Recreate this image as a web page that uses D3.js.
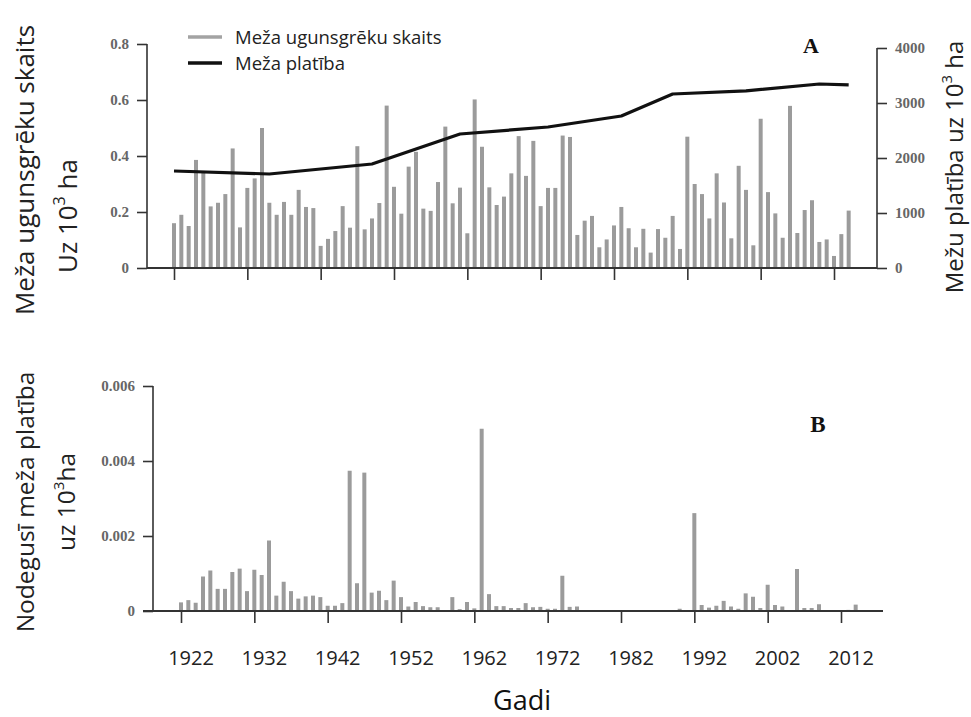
<!DOCTYPE html>
<html>
<head>
<meta charset="utf-8">
<script src="https://cdn.jsdelivr.net/npm/d3@7"></script>
<style>
  html, body { margin: 0; padding: 0; background: #fff; }
  svg { display: block; }
</style>
</head>
<body>
<script>
// years 1922..2014, one bar per year
const years = d3.range(1922, 2015);

// A: forest fire count per 10^3 ha
const fireCount = [
  0.16, 0.19, 0.15, 0.386, 0.34, 0.22, 0.233, 0.264, 0.427, 0.145,
  0.286, 0.32, 0.50, 0.233, 0.19, 0.236, 0.19, 0.279, 0.218, 0.214,
  0.079, 0.104, 0.132, 0.221, 0.144, 0.435, 0.138, 0.177, 0.232, 0.58,
  0.29, 0.194, 0.362, 0.415, 0.212, 0.204, 0.307, 0.505, 0.231, 0.287,
  0.124, 0.602, 0.433, 0.288, 0.225, 0.255, 0.338, 0.471, 0.329, 0.454,
  0.221, 0.286, 0.286, 0.473, 0.468, 0.118, 0.169, 0.186, 0.074, 0.102,
  0.152, 0.218, 0.142, 0.074, 0.14, 0.055, 0.139, 0.108, 0.186, 0.068,
  0.469, 0.30, 0.264, 0.177, 0.338, 0.234, 0.106, 0.365, 0.279, 0.081,
  0.533, 0.271, 0.195, 0.108, 0.579, 0.125, 0.207, 0.242, 0.093, 0.102,
  0.043, 0.121, 0.205
];

// A: forest area, 10^3 ha
const areaYears = [1922, 1935, 1949, 1961, 1973, 1983, 1990, 2000, 2010, 2014];
const forestArea = [1764, 1709, 1891, 2436, 2564, 2764, 3164, 3220, 3345, 3330];

// B: burnt forest area per 10^3 ha
const burntArea = [
  0.00023, 0.00029, 0.00022, 0.00092, 0.00108, 0.00059, 0.00059, 0.00104, 0.00113, 0.00053,
  0.0011, 0.00096, 0.00188, 0.00041, 0.00078, 0.00053, 0.00033, 0.00039, 0.00041, 0.00037,
  0.00014, 0.00014, 0.00021, 0.00374, 0.00074, 0.00369, 0.00049, 0.00054, 0.00029, 0.00081,
  0.00037, 0.00012, 0.00024, 0.00013, 0.0001, 0.0001, 0.00002, 0.00037, 0.00005, 0.00024,
  0.00007, 0.00486, 0.00045, 0.00013, 0.00013, 0.00008, 0.00008, 0.00021, 0.0001, 0.00011,
  0.00006, 0.00006, 0.00094, 0.00011, 0.00012, 0, 0.00002, 0.00002, 0, 0,
  0, 0.00002, 0.00002, 0, 0, 0, 0, 0.00002, 0.00006, 0,
  0.00261, 0.00016, 0.00009, 0.00014, 0.00027, 0.00012, 0.00006, 0.00047, 0.00038, 0.00008,
  0.0007, 0.00016, 0.00012, 0.00002, 0.00112, 0.00008, 0.00008, 0.00018, 0, 0,
  0, 0.00003, 0.00017
];

const tickYears = [1922, 1932, 1942, 1952, 1962, 1972, 1982, 1992, 2002, 2012];
const ticksA = [0, 0.2, 0.4, 0.6, 0.8];
const ticksArea = [0, 1000, 2000, 3000, 4000];
const ticksB = [0, 0.002, 0.004, 0.006];

const W = 971, H = 717;
const sans = "'Open Sans', 'Noto Sans', sans-serif";
const serif = "'Liberation Serif', 'DejaVu Serif', serif";
const barColor = "#9b9b9b";
const axisColor = "#333";
const barW = 4;

const svg = d3.select("body").append("svg").attr("width", W).attr("height", H);

const styleAxis = (g) => {
  g.selectAll("path").attr("stroke", axisColor).attr("stroke-width", 1.6);
  g.selectAll("line").attr("stroke", axisColor).attr("stroke-width", 1.6);
};
const styleTickText = (g) =>
  g.selectAll("text").attr("font-family", serif).attr("font-size", 15)
    .attr("font-weight", "bold").attr("fill", "#666");

// ---- panel A ----
const xA = d3.scaleLinear().domain([1922, 2012]).range([174, 834]);
const yA = d3.scaleLinear().domain([0, 0.8]).range([268, 44]);
const yArea = d3.scaleLinear().domain([0, 4000]).range([268, 48]);

const gA = svg.append("g");

gA.selectAll("rect.bar")
  .data(years)
  .enter()
  .append("rect")
  .attr("class", "bar")
  .attr("x", (d) => xA(d) - barW / 2)
  .attr("y", (d, i) => yA(fireCount[i]))
  .attr("width", barW)
  .attr("height", (d, i) => yA(0) - yA(fireCount[i]))
  .attr("fill", barColor);

gA.append("line")
  .attr("x1", 147).attr("x2", 877)
  .attr("y1", yA(0)).attr("y2", yA(0))
  .attr("stroke", axisColor).attr("stroke-width", 1.8);

gA.append("g")
  .attr("transform", `translate(0,${yA(0)})`)
  .call(d3.axisBottom(xA).tickValues(tickYears).tickSize(12).tickFormat(""))
  .call((g) => g.select(".domain").remove())
  .call(styleAxis);

gA.append("g")
  .attr("transform", "translate(147,0)")
  .call(d3.axisLeft(yA).tickValues(ticksA).tickSize(10).tickPadding(8)
    .tickFormat((d) => (d === 0 ? "0" : d3.format(".1f")(d))))
  .call(styleAxis)
  .call((g) => g.select(".domain").attr("d", `M0,${yA(0.8)}V${yA(0)}`))
  .call(styleTickText);

gA.append("g")
  .attr("transform", "translate(877,0)")
  .call(d3.axisRight(yArea).tickValues(ticksArea).tickSize(10).tickPadding(8)
    .tickFormat(d3.format("d")))
  .call(styleAxis)
  .call((g) => g.select(".domain").attr("d", `M0,${yArea(4000)}V${yArea(0)}`))
  .call(styleTickText);

// forest area line
const line = d3.line()
  .x((d, i) => xA(areaYears[i]))
  .y((d) => yArea(d));
gA.append("path")
  .datum(forestArea)
  .attr("d", line)
  .attr("fill", "none")
  .attr("stroke", "#111")
  .attr("stroke-width", 3.2)
  .attr("stroke-linejoin", "round");

// legend
const legend = [
  { label: "Meža ugunsgrēku skaits", color: "#a3a3a3", y: 37 },
  { label: "Meža platība", color: "#111", y: 63 },
];
const lg = gA.selectAll("g.legend").data(legend).enter().append("g").attr("class", "legend");
lg.append("line")
  .attr("x1", 188).attr("x2", 222)
  .attr("y1", (d) => d.y).attr("y2", (d) => d.y)
  .attr("stroke", (d) => d.color).attr("stroke-width", 3.5);
lg.append("text")
  .attr("x", 235).attr("y", (d) => d.y + 6.5)
  .attr("font-family", sans).attr("font-size", 18.5).attr("fill", "#222")
  .text((d) => d.label);

gA.append("text")
  .attr("x", 811).attr("y", 53)
  .attr("text-anchor", "middle")
  .attr("font-family", serif).attr("font-weight", "bold").attr("font-size", 22)
  .attr("fill", "#111")
  .text("A");

// ---- panel B ----
const xB = d3.scaleLinear().domain([1922, 2012]).range([181, 841]);
const yB = d3.scaleLinear().domain([0, 0.006]).range([611, 386]);

const gB = svg.append("g");

gB.selectAll("rect.bar")
  .data(years)
  .enter()
  .append("rect")
  .attr("class", "bar")
  .attr("x", (d) => xB(d) - barW / 2)
  .attr("y", (d, i) => yB(burntArea[i]))
  .attr("width", barW)
  .attr("height", (d, i) => yB(0) - yB(burntArea[i]))
  .attr("fill", barColor);

gB.append("line")
  .attr("x1", 143).attr("x2", 883)
  .attr("y1", yB(0)).attr("y2", yB(0))
  .attr("stroke", axisColor).attr("stroke-width", 1.8);

gB.append("g")
  .attr("transform", `translate(0,${yB(0)})`)
  .call(d3.axisBottom(xB).tickValues(tickYears).tickSize(12).tickFormat(""))
  .call((g) => g.select(".domain").remove())
  .call(styleAxis);

// year labels sit a little right of their ticks, as in the original
gB.selectAll("text.year")
  .data(tickYears)
  .enter()
  .append("text")
  .attr("class", "year")
  .attr("x", (d) => xB(d) + 10)
  .attr("y", 665)
  .attr("text-anchor", "middle")
  .attr("font-family", sans).attr("font-size", 20).attr("fill", "#222")
  .text((d) => d);

gB.append("g")
  .attr("transform", "translate(153,0)")
  .call(d3.axisLeft(yB).tickValues(ticksB).tickSize(10).tickPadding(8)
    .tickFormat((d) => (d === 0 ? "0" : d3.format(".3f")(d))))
  .call(styleAxis)
  .call((g) => g.select(".domain").attr("d", `M0,${yB(0.006)}V${yB(0)}`))
  .call(styleTickText);

gB.append("text")
  .attr("x", 818).attr("y", 432)
  .attr("text-anchor", "middle")
  .attr("font-family", serif).attr("font-weight", "bold").attr("font-size", 23)
  .attr("fill", "#111")
  .text("B");

// ---- titles ----
const vTitle = (x, y, size, parts) => {
  const t = svg.append("text")
    .attr("transform", `translate(${x},${y}) rotate(-90)`)
    .attr("text-anchor", "middle")
    .attr("font-family", sans).attr("font-size", size).attr("fill", "#222");
  parts.forEach((p) => {
    const s = t.append("tspan").text(p.text);
    if (p.sup) s.attr("font-size", size * 0.62).attr("dy", -size * 0.45);
    if (p.after) s.attr("dy", size * 0.45);
  });
};

vTitle(34, 170, 26, [{ text: "Meža ugunsgrēku skaits" }]);
vTitle(77, 216, 26, [{ text: "Uz 10" }, { text: "3", sup: true }, { text: " ha", after: true }]);
vTitle(963, 167, 24, [{ text: "Mežu platība uz 10" }, { text: "3", sup: true }, { text: " ha", after: true }]);
vTitle(34, 502, 24.5, [{ text: "Nodegusī meža platība" }]);
vTitle(75, 502, 24.5, [{ text: "uz 10" }, { text: "3", sup: true }, { text: "ha", after: true }]);

svg.append("text")
  .attr("x", 522).attr("y", 710)
  .attr("text-anchor", "middle")
  .attr("font-family", sans).attr("font-size", 27).attr("fill", "#111")
  .text("Gadi");
</script>
</body>
</html>
